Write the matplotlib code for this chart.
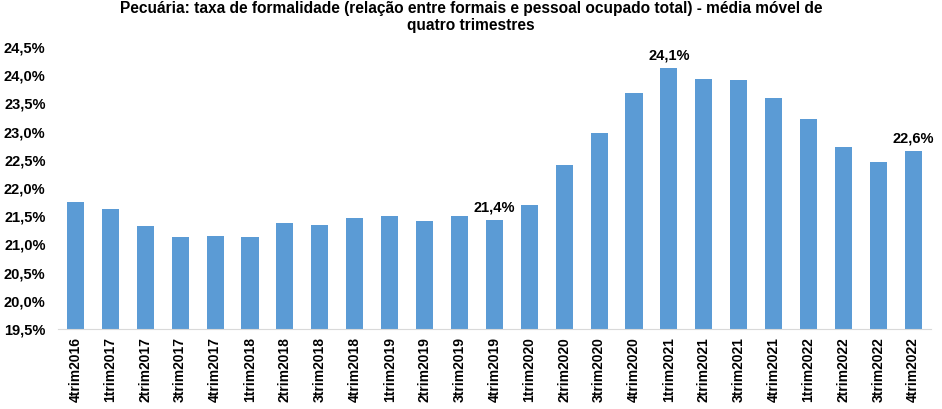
import matplotlib.pyplot as plt
from matplotlib.ticker import FuncFormatter

plt.rcParams['font.family'] = ['Liberation Sans', 'DejaVu Sans']

trimestres = ["4trim2016", "1trim2017", "2trim2017", "3trim2017", "4trim2017",
              "1trim2018", "2trim2018", "3trim2018", "4trim2018", "1trim2019",
              "2trim2019", "3trim2019", "4trim2019", "1trim2020", "2trim2020",
              "3trim2020", "4trim2020", "1trim2021", "2trim2021", "3trim2021",
              "4trim2021", "1trim2022", "2trim2022", "3trim2022", "4trim2022"]
taxa = [21.76, 21.63, 21.32, 21.13, 21.15, 21.14, 21.38, 21.35, 21.47, 21.50,
        21.41, 21.50, 21.43, 21.69, 22.40, 22.98, 23.68, 24.12, 23.93, 23.91,
        23.60, 23.22, 22.72, 22.47, 22.65]
# barras com rotulo de valor
destaques = [12, 17, 24]

fig = plt.figure(figsize=(9.42, 4.09), dpi=100)
ax = fig.add_axes([0.0616, 0.1956, 0.9264, 0.6894])

x = list(range(len(trimestres)))
ax.bar(x, taxa, width=0.49, color='#5B9BD5')
ax.set_ylim(19.5, 24.5)
ax.set_xlim(-0.5, len(trimestres) - 0.5)
ax.set_yticks([19.5 + 0.5 * i for i in range(11)])
ax.yaxis.set_major_formatter(FuncFormatter(lambda v, p: ("%.1f%%" % v).replace('.', ',')))
ax.set_xticks(x)
ax.set_xticklabels(trimestres, rotation=90, fontweight='bold', fontsize=10)
for lbl in ax.get_yticklabels():
    lbl.set_fontweight('bold')
    lbl.set_fontsize(10.5)
ax.tick_params(axis='both', length=0)
ax.tick_params(axis='y', pad=9)
ax.tick_params(axis='x', pad=6)

for s in ['top', 'right', 'left']:
    ax.spines[s].set_visible(False)
ax.spines['bottom'].set_color('#D9D9D9')

for i in destaques:
    ax.annotate(("%.1f%%" % taxa[i]).replace('.', ','), (i, taxa[i]),
                xytext=(0, 4), textcoords='offset points', ha='center', va='bottom',
                fontweight='bold', fontsize=10.5)

fig.suptitle("Pecuária: taxa de formalidade (relação entre formais e pessoal ocupado total) - média móvel de\nquatro trimestres",
             x=0.5, y=0.998, fontweight='bold', fontsize=11.2, linespacing=1.2)

plt.savefig("out.png", dpi=100)
